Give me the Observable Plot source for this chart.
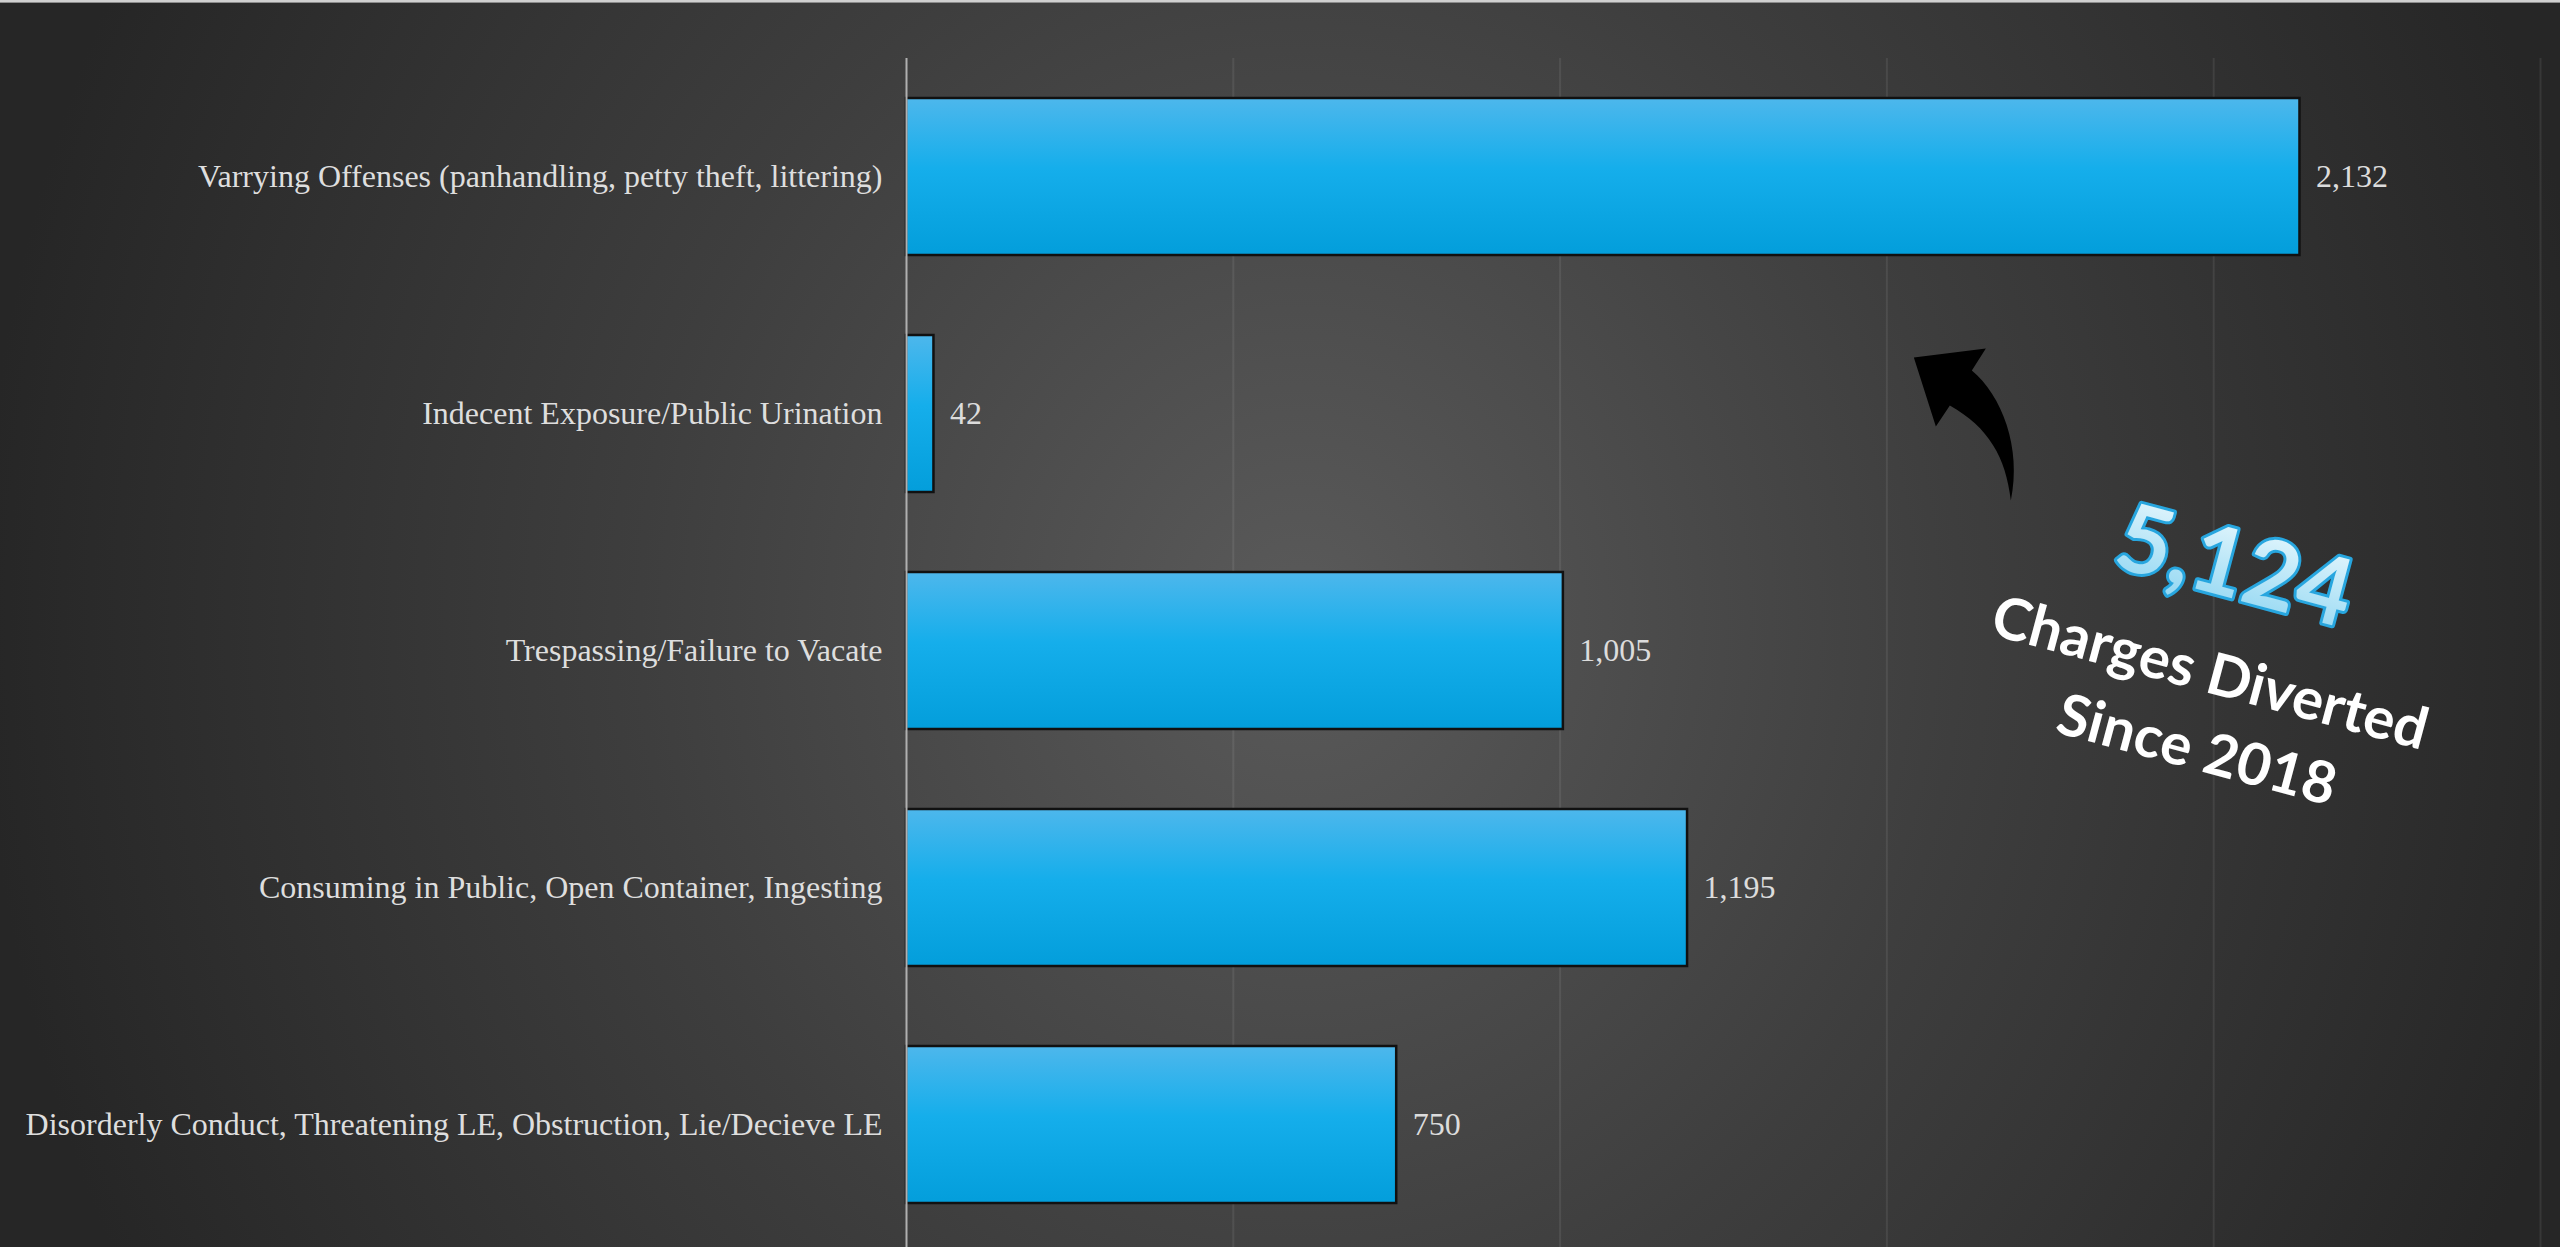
<!DOCTYPE html>
<html>
<head>
<meta charset="utf-8">
<script src="https://cdn.jsdelivr.net/npm/d3@7"></script>
<script src="https://cdn.jsdelivr.net/npm/@observablehq/plot@0.6"></script>
<style>
  html, body { margin: 0; padding: 0; background: #262626; }
  #wrap {
    position: relative;
    width: 2560px; height: 1247px; overflow: hidden;
    background: radial-gradient(ellipse 1320px 1450px at 1300px 620px, #5a5a5a 0%, #3e3e3e 50%, #262626 100%);
  }
  #topline { position: absolute; left: 0; top: 0; width: 2560px; height: 2px; background: #d0d0d0; border-bottom: 1px solid #8c8c8c; }
  #chart svg { display: block; }
</style>
</head>
<body>
<svg width="0" height="0" style="position:absolute">
  <defs>
    <linearGradient id="barGrad" x1="0" y1="0" x2="0" y2="1">
      <stop offset="0%" stop-color="#4db7ec"/>
      <stop offset="45%" stop-color="#15aeeb"/>
      <stop offset="100%" stop-color="#039edb"/>
    </linearGradient>
    <linearGradient id="numGrad" x1="0" y1="0" x2="0" y2="1">
      <stop offset="0%" stop-color="#eefafe"/>
      <stop offset="100%" stop-color="#8fd6f2"/>
    </linearGradient>
  </defs>
</svg>
<div id="wrap">
  <div id="chart"></div>
  <div id="topline"></div>
</div>
<script>
const categories = [
  "Varrying Offenses (panhandling, petty theft, littering)",
  "Indecent Exposure/Public Urination",
  "Trespassing/Failure to Vacate",
  "Consuming in Public, Open Container, Ingesting",
  "Disorderly Conduct, Threatening LE, Obstruction, Lie/Decieve LE"
];
const values = [2132, 42, 1005, 1195, 750];
const xTicks = [500, 1000, 1500, 2000, 2500];
const annotationLines = ["Charges Diverted", "Since 2018"];

const data = categories.map((c, i) => ({category: c, value: values[i]}));
const total = d3.sum(values);
const fmt = d3.format(",");

const annoCategory = categories[2];
const arrowCategory = categories[1];

function arrowMark(index, scales, vals, dims) {
  const g = d3.create("svg:g");
  const bw = typeof scales.y.bandwidth === "function" ? scales.y.bandwidth() : 0;
  const tx = scales.x(1542);
  const ty = scales.y(arrowCategory) + bw / 2 - 56;
  g.append("path")
    .attr("transform", `translate(${tx},${ty})`)
    .attr("d", "M0,0 L72,-9 L58,13 C88,38 108,90 97,143 C92,100 75,70 36,48 L22,69 Z")
    .attr("fill", "#000");
  return g.node();
}

const plot = Plot.plot({
  width: 2560,
  height: 1247,
  marginLeft: 906,
  marginRight: 20,
  marginTop: 58,
  marginBottom: 4,
  style: {background: "transparent", color: "#dcdcdc", fontFamily: "'Liberation Serif', 'DejaVu Serif', serif"},
  x: {domain: [0, 2500], axis: null},
  y: {domain: categories, padding: 0, axis: null, label: null},
  marks: [
    Plot.ruleX(xTicks, {stroke: "#ffffff", strokeOpacity: 0.08, strokeWidth: 2, insetBottom: -4}),
    Plot.barX(data, {
      x: "value", y: "category",
      fill: "url(#barGrad)", stroke: "#111", strokeWidth: 2.5,
      insetTop: 40, insetBottom: 40
    }),
    Plot.ruleX([0], {stroke: "#b0b0b0", strokeWidth: 2, insetBottom: -4}),
    Plot.axisY({tickSize: 0, tickPadding: 24, fontSize: 32, color: "#dedede", label: null}),
    Plot.text(data, {
      x: "value", y: "category", text: d => fmt(d.value),
      dx: 16, textAnchor: "start", fontSize: 32, fill: "#dcdcdc"
    }),
    arrowMark,
    Plot.text([fmt(total)], {
      x: () => 2032, y: () => annoCategory, text: d => d, dy: -83,
      rotate: 15, fontSize: 94, fontWeight: 700, fontFamily: "Lato, 'Open Sans', sans-serif",
      fill: "url(#numGrad)", stroke: "#27a6df", strokeWidth: 6, paintOrder: "stroke", textAnchor: "middle"
    }),
    Plot.text([annotationLines[0]], {
      x: () => 1994, y: () => annoCategory, text: d => d, dy: 23,
      rotate: 15, fontSize: 58, fontWeight: 700, fontFamily: "Lato, 'Open Sans', sans-serif",
      fill: "#ffffff", textAnchor: "middle"
    }),
    Plot.text([annotationLines[1]], {
      x: () => 1974, y: () => annoCategory, text: d => d, dy: 100,
      rotate: 15, fontSize: 58, fontWeight: 700, fontFamily: "Lato, 'Open Sans', sans-serif",
      fill: "#ffffff", textAnchor: "middle"
    })
  ]
});
document.getElementById("chart").appendChild(plot);
</script>
</body>
</html>
